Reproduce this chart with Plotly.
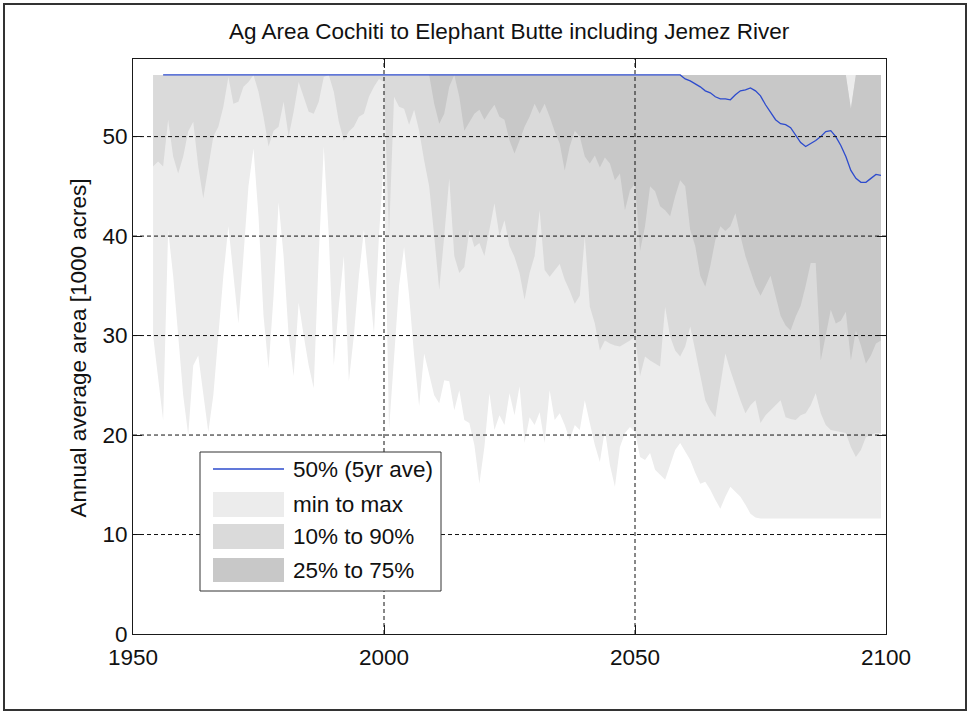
import plotly.graph_objects as go

# ---------------- data ----------------
years = list(range(1954, 2100))

max_vals = [
    56.2, 56.2, 56.2, 56.2, 56.2, 56.2,                                   # 1954-1959
    56.2, 56.2, 56.2, 56.2, 56.2, 56.2, 56.2, 56.2, 56.2, 56.2,           # 1960s
    56.2, 56.2, 56.2, 56.2, 56.2, 56.2, 56.2, 56.2, 56.2, 56.2,           # 1970s
    56.2, 56.2, 56.2, 56.2, 56.2, 56.2, 56.2, 56.2, 56.2, 56.2,           # 1980s
    56.2, 56.2, 56.2, 56.2, 56.2, 56.2, 56.2, 56.2, 56.2, 56.2,           # 1990s
    56.2, 56.2, 56.2, 56.2, 56.2, 56.2, 56.2, 56.2, 56.2, 56.2,           # 2000s
    56.2, 56.2, 56.2, 56.2, 56.2, 56.2, 56.2, 56.2, 56.2, 56.2,           # 2010s
    56.2, 56.2, 56.2, 56.2, 56.2, 56.2, 56.2, 56.2, 56.2, 56.2,           # 2020s
    56.2, 56.2, 56.2, 56.2, 56.2, 56.2, 56.2, 56.2, 56.2, 56.2,           # 2030s
    56.2, 56.2, 56.2, 56.2, 56.2, 56.2, 56.2, 56.2, 56.2, 56.2,           # 2040s
    56.2, 56.2, 56.2, 56.2, 56.2, 56.2, 56.2, 56.2, 56.2, 56.2,           # 2050s
    56.2, 56.2, 56.2, 56.2, 56.2, 56.2, 56.2, 56.2, 56.2, 56.2,           # 2060s
    56.2, 56.2, 56.2, 56.2, 56.2, 56.2, 56.2, 56.2, 56.2, 56.2,           # 2070s
    56.2, 56.2, 56.2, 56.2, 56.2, 56.2, 56.2, 56.2, 56.2, 56.2,           # 2080s
    56.2, 56.2, 56.2, 56.2, 56.2, 56.2, 56.2, 56.2, 56.2, 56.2,           # 2090s
]

p90 = [
    56.2, 56.2, 56.2, 56.2, 56.2, 56.2,
    56.2, 56.2, 56.2, 56.2, 56.2, 56.2, 56.2, 56.2, 56.2, 56.2,
    56.2, 56.2, 56.2, 56.2, 56.2, 56.2, 56.2, 56.2, 56.2, 56.2,
    56.2, 56.2, 56.2, 56.2, 56.2, 56.2, 56.2, 56.2, 56.2, 56.2,
    56.2, 56.2, 56.2, 56.2, 56.2, 56.2, 56.2, 56.2, 56.2, 56.2,
    56.2, 56.2, 56.2, 56.2, 56.2, 56.2, 56.2, 56.2, 56.2, 56.2,
    56.2, 56.2, 56.2, 56.2, 56.2, 56.2, 56.2, 56.2, 56.2, 56.2,
    56.2, 56.2, 56.2, 56.2, 56.2, 56.2, 56.2, 56.2, 56.2, 56.2,
    56.2, 56.2, 56.2, 56.2, 56.2, 56.2, 56.2, 56.2, 56.2, 56.2,
    56.2, 56.2, 56.2, 56.2, 56.2, 56.2, 56.2, 56.2, 56.2, 56.2,
    56.2, 56.2, 56.2, 56.2, 56.2, 56.2, 56.2, 56.2, 56.2, 56.2,
    56.2, 56.2, 56.2, 56.2, 56.2, 56.2, 56.2, 56.2, 56.2, 56.2,
    56.2, 56.2, 56.2, 56.2, 56.2, 56.2, 56.2, 56.2, 56.2, 56.2,
    56.2, 56.2, 56.2, 56.2, 56.2, 56.2, 56.2, 56.2, 56.2, 56.2,
    56.2, 56.2, 56.2, 52.8, 56.2, 56.2, 56.2, 56.2, 56.2, 56.2,
]

p75 = [
    56.2, 56.2, 56.2, 56.2, 56.2, 56.2,
    56.2, 56.2, 56.2, 56.2, 56.2, 56.2, 56.2, 56.2, 56.2, 56.2,
    56.2, 56.2, 56.2, 56.2, 56.2, 56.2, 56.2, 56.2, 56.2, 56.2,
    56.2, 56.2, 56.2, 56.2, 56.2, 56.2, 56.2, 56.2, 56.2, 56.2,
    56.2, 56.2, 56.2, 56.2, 56.2, 56.2, 56.2, 56.2, 56.2, 56.2,
    56.2, 56.2, 56.2, 56.2, 56.2, 56.2, 56.2, 56.2, 56.2, 56.2,
    56.2, 56.2, 56.2, 56.2, 56.2, 56.2, 56.2, 56.2, 56.2, 56.2,
    56.2, 56.2, 56.2, 56.2, 56.2, 56.2, 56.2, 56.2, 56.2, 56.2,
    56.2, 56.2, 56.2, 56.2, 56.2, 56.2, 56.2, 56.2, 56.2, 56.2,
    56.2, 56.2, 56.2, 56.2, 56.2, 56.2, 56.2, 56.2, 56.2, 56.2,
    56.2, 56.2, 56.2, 56.2, 56.2, 56.2, 56.2, 56.2, 56.2, 56.2,
    56.2, 56.2, 56.2, 56.2, 56.2, 56.2, 56.2, 56.2, 56.2, 56.2,
    56.2, 56.2, 56.2, 56.2, 56.2, 56.2, 56.2, 56.2, 56.2, 56.2,
    56.2, 56.2, 56.2, 56.2, 56.2, 56.2, 56.2, 56.2, 56.2, 56.2,
    56.2, 56.2, 56.2, 52.8, 56.2, 56.2, 56.2, 56.2, 56.2, 56.2,
]

p25 = [
    56.2, 56.2, 56.2, 56.2, 56.2, 56.2,                                   # 1954-1959
    56.2, 56.2, 56.2, 56.2, 56.2, 56.2, 56.2, 56.2, 56.2, 56.2,           # 1960s
    56.2, 56.2, 56.2, 56.2, 56.2, 56.2, 56.2, 56.2, 56.2, 56.2,           # 1970s
    56.2, 56.2, 56.2, 56.2, 56.2, 56.2, 56.2, 56.2, 56.2, 56.2,           # 1980s
    56.2, 56.2, 56.2, 56.2, 56.2, 56.2, 56.2, 56.2, 56.2, 56.2,           # 1990s
    56.2, 56.2, 56.2, 56.2, 56.2, 56.2, 56.2, 56.2, 56.2, 56.2,           # 2000s
    53.3, 51.3, 52.3, 55.0, 56.2, 54.0, 50.6, 51.5, 52.3, 52.7,           # 2010s
    51.7, 52.5, 53.2, 52.0, 51.7, 49.6, 48.3, 49.6, 51.0, 52.0,           # 2020s
    53.3, 52.3, 53.3, 52.0, 50.5, 49.3, 46.6, 49.0, 50.6, 50.0,           # 2030s
    48.0, 47.3, 48.1, 46.9, 47.9, 47.3, 45.6, 46.3, 42.6, 44.6,           # 2040s
    45.3, 38.5, 41.0, 45.0, 44.5, 43.0, 42.6, 42.0, 44.0, 45.6,           # 2050s
    45.0, 40.6, 39.0, 36.0, 34.9, 37.0, 39.6, 41.0, 40.5, 41.0,           # 2060s
    42.3, 40.0, 38.0, 36.5, 35.0, 34.0, 35.0, 36.0, 34.0, 32.0,           # 2070s
    31.0, 30.5, 31.9, 33.0, 35.0, 37.3, 37.3, 27.5, 30.0, 32.6,           # 2080s
    31.2, 31.5, 32.4, 27.5, 30.5, 29.0, 27.2, 28.0, 29.2, 29.5,           # 2090s
]

p10 = [
    47.0, 47.5, 47.0, 51.7, 48.0, 46.3,                                   # 1954-1959
    48.0, 50.5, 51.5, 47.0, 43.8, 47.0, 50.0, 51.0, 53.0, 56.0,           # 1960s
    53.3, 53.5, 55.0, 55.5, 56.2, 54.5, 52.0, 49.0, 50.6, 51.0,           # 1970s
    53.5, 50.0, 52.5, 55.5, 54.0, 52.5, 52.3, 53.5, 56.0, 56.2,           # 1980s
    54.5, 51.5, 49.6, 50.5, 51.0, 52.0, 52.3, 54.0, 55.0, 55.8,           # 1990s
    55.5, 40.0, 54.0, 53.0, 52.8, 51.2, 52.7, 50.6, 47.6, 45.0,           # 2000s
    40.0, 34.6, 40.0, 45.8, 38.0, 36.3, 36.9, 40.6, 38.9, 39.3,           # 2010s
    38.0, 40.5, 43.3, 40.0, 41.6, 39.0, 37.9, 36.3, 33.6, 36.3,           # 2020s
    38.0, 42.6, 36.6, 35.9, 36.5, 37.2, 35.6, 34.5, 33.2, 34.0,           # 2030s
    40.0, 32.9, 31.2, 28.5, 29.5, 29.2, 29.0, 28.9, 29.2, 29.5,           # 2040s
    29.9, 25.9, 27.9, 27.5, 27.2, 26.9, 32.9, 29.9, 28.5, 27.9,           # 2050s
    28.9, 30.9, 28.5, 26.0, 23.5, 22.5, 21.8, 25.0, 28.2, 26.5,           # 2060s
    24.9, 23.5, 22.2, 23.0, 23.5, 21.2, 22.0, 22.5, 23.0, 23.5,           # 2070s
    21.8, 21.6, 21.5, 22.0, 22.2, 23.0, 24.2, 22.2, 21.0, 20.5,           # 2080s
    20.4, 20.3, 20.2, 18.8, 17.8, 18.5, 19.8, 20.0, 20.2, 20.2,           # 2090s
]

min_vals = [
    30.0, 26.0, 21.5, 40.6, 36.0, 30.0,                                   # 1954-1959
    24.0, 20.0, 27.0, 28.0, 24.0, 20.3, 24.0, 30.0, 36.0, 41.0,           # 1960s
    36.0, 31.2, 38.0, 45.0, 48.8, 42.0, 32.0, 26.7, 34.0, 43.4,           # 1970s
    38.0, 30.0, 25.9, 33.3, 30.0, 27.0, 24.7, 38.0, 49.0, 40.0,           # 1980s
    27.0, 33.0, 38.0, 25.4, 30.0, 36.0, 40.6, 35.0, 30.2, 40.0,           # 1990s
    48.0, 20.5, 28.0, 35.0, 38.9, 34.0, 28.0, 22.9, 28.2, 26.2,           # 2000s
    24.0, 23.2, 25.5, 25.4, 22.5, 24.5, 21.5, 21.2, 19.0, 15.1,           # 2010s
    18.8, 24.2, 20.5, 22.0, 21.0, 24.2, 22.0, 24.9, 19.2, 21.8,           # 2020s
    21.0, 22.3, 19.2, 24.5, 21.5, 22.2, 21.0, 19.5, 21.0, 20.5,           # 2030s
    23.5, 21.2, 19.0, 17.3, 20.5, 17.0, 14.8, 18.8, 20.2, 20.8,           # 2040s
    20.3, 17.8, 17.5, 18.2, 16.5, 16.0, 15.5, 17.0, 18.5, 19.2,           # 2050s
    18.3, 17.5, 16.2, 15.1, 15.3, 14.5, 13.5, 12.6, 13.8, 14.8,           # 2060s
    14.3, 13.8, 13.0, 12.1, 11.7, 11.6, 11.6, 11.6, 11.6, 11.6,           # 2070s
    11.6, 11.6, 11.6, 11.6, 11.6, 11.6, 11.6, 11.6, 11.6, 11.6,           # 2080s
    11.6, 11.6, 11.6, 11.6, 11.6, 11.6, 11.6, 11.6, 11.6, 11.6,           # 2090s
]

median_years = list(range(1956, 2100))
median_5yr = [
    56.2, 56.2, 56.2, 56.2,                                               # 1956-1959
    56.2, 56.2, 56.2, 56.2, 56.2, 56.2, 56.2, 56.2, 56.2, 56.2,           # 1960s
    56.2, 56.2, 56.2, 56.2, 56.2, 56.2, 56.2, 56.2, 56.2, 56.2,           # 1970s
    56.2, 56.2, 56.2, 56.2, 56.2, 56.2, 56.2, 56.2, 56.2, 56.2,           # 1980s
    56.2, 56.2, 56.2, 56.2, 56.2, 56.2, 56.2, 56.2, 56.2, 56.2,           # 1990s
    56.2, 56.2, 56.2, 56.2, 56.2, 56.2, 56.2, 56.2, 56.2, 56.2,           # 2000s
    56.2, 56.2, 56.2, 56.2, 56.2, 56.2, 56.2, 56.2, 56.2, 56.2,           # 2010s
    56.2, 56.2, 56.2, 56.2, 56.2, 56.2, 56.2, 56.2, 56.2, 56.2,           # 2020s
    56.2, 56.2, 56.2, 56.2, 56.2, 56.2, 56.2, 56.2, 56.2, 56.2,           # 2030s
    56.2, 56.2, 56.2, 56.2, 56.2, 56.2, 56.2, 56.2, 56.2, 56.2,           # 2040s
    56.2, 56.2, 56.2, 56.2, 56.2, 56.2, 56.2, 56.2, 56.2, 56.2,           # 2050s
    55.8, 55.6, 55.3, 55.0, 54.6, 54.4, 54.0, 53.8, 53.8, 53.7,           # 2060s
    54.2, 54.6, 54.7, 54.9, 54.6, 54.1, 53.2, 52.4, 51.7, 51.3,           # 2070s
    51.2, 50.9, 50.2, 49.4, 49.0, 49.3, 49.6, 50.0, 50.5, 50.6,           # 2080s
    50.0, 49.1, 48.0, 46.6, 45.8, 45.4, 45.4, 45.8, 46.2, 46.1,           # 2090s
]

x_ticks = [1950, 2000, 2050, 2100]
y_ticks = [0, 10, 20, 30, 40, 50]
x_range = [1950, 2100]
y_range = [0, 57.8]

title_text = "Ag Area Cochiti to Elephant Butte including Jemez River"
y_label = "Annual average area [1000 acres]"
legend_labels = ["50% (5yr ave)", "min to max", "10% to 90%", "25% to 75%"]

# ---------------- styling ----------------
FONT = "Liberation Sans, Arial, Helvetica, sans-serif"
FS = 22.5
C_MINMAX = "#ececec"
C_1090 = "#dadada"
C_2575 = "#c8c8c8"
C_LINE = "rgb(45,75,205)"

fig = go.Figure()

def band(lower, upper, color, name):
    fig.add_trace(go.Scatter(x=years, y=lower, mode="lines", line=dict(width=0),
                             showlegend=False, hoverinfo="skip", name=name + " lower"))
    fig.add_trace(go.Scatter(x=years, y=upper, mode="lines", line=dict(width=0),
                             fill="tonexty", fillcolor=color, showlegend=False, name=name))

band(min_vals, max_vals, C_MINMAX, legend_labels[1])
band(p10, p90, C_1090, legend_labels[2])
band(p25, p75, C_2575, legend_labels[3])

fig.add_trace(go.Scatter(x=median_years, y=median_5yr, mode="lines",
                         line=dict(color=C_LINE, width=1.3), showlegend=False,
                         name=legend_labels[0]))

axis_common = dict(
    showgrid=False, zeroline=False, showline=True, linecolor="#1a1a1a", linewidth=1,
    mirror="allticks", ticks="inside", ticklen=9, tickcolor="#1a1a1a", tickwidth=1,
    layer="above traces", tickfont=dict(family=FONT, size=FS, color="#111"),
)

fig.update_xaxes(range=x_range, tickvals=x_ticks, ticktext=[str(v) for v in x_ticks],
                 ticklabelstandoff=3, **axis_common)
fig.update_yaxes(range=y_range, tickvals=y_ticks, ticktext=[str(v) for v in y_ticks],
                 **axis_common)

shapes = []
# dotted grid lines above the fills
for yv in y_ticks[1:]:
    shapes.append(dict(type="line", xref="paper", yref="y", x0=0, x1=1, y0=yv, y1=yv,
                       line=dict(color="#111", width=1, dash="4px,3px"), layer="above"))
for xv in x_ticks[1:-1]:
    shapes.append(dict(type="line", xref="x", yref="paper", x0=xv, x1=xv, y0=0, y1=1,
                       line=dict(color="#111", width=1, dash="4px,3px"), layer="above"))

# manual legend (pixel positions converted to paper coordinates)
L, T, PW, PH = 133.0, 59.0, 753.0, 575.0
def px(x):
    return (x - L) / PW
def py(y):
    return (T + PH - y) / PH

shapes.append(dict(type="rect", xref="paper", yref="paper",
                   x0=px(200), x1=px(441), y0=py(591), y1=py(452),
                   line=dict(color="#333", width=1), fillcolor="white", layer="above"))
shapes.append(dict(type="line", xref="paper", yref="paper",
                   x0=px(213), x1=px(284), y0=py(469), y1=py(469),
                   line=dict(color=C_LINE, width=1.3), layer="above"))
for (ytop, ybot, col) in [(492, 517, C_MINMAX), (524, 549, C_1090), (558, 582, C_2575)]:
    shapes.append(dict(type="rect", xref="paper", yref="paper",
                       x0=px(213), x1=px(284), y0=py(ybot), y1=py(ytop),
                       line=dict(width=0), fillcolor=col, layer="above"))

# outer figure frame
shapes.append(dict(type="rect", xref="paper", yref="paper",
                   x0=px(4), x1=px(966), y0=py(710), y1=py(4),
                   line=dict(color="#333", width=2), fillcolor="rgba(0,0,0,0)", layer="above"))

annotations = []
for lbl, yc in zip(legend_labels, [469, 504, 536, 570]):
    annotations.append(dict(text=lbl, xref="paper", yref="paper", x=px(291), y=py(yc),
                            xanchor="left", yanchor="middle", showarrow=False,
                            font=dict(family=FONT, size=FS, color="#111")))
annotations.append(dict(text=title_text, xref="paper", yref="paper", x=0.5, y=py(31),
                        xanchor="center", yanchor="middle", showarrow=False,
                        font=dict(family=FONT, size=FS, color="#111")))
annotations.append(dict(text=y_label, xref="paper", yref="paper", x=px(78), y=py(348.5),
                        xanchor="center", yanchor="middle", textangle=-90, showarrow=False,
                        font=dict(family=FONT, size=FS, color="#111")))

fig.update_layout(
    width=970, height=714,
    margin=dict(l=133, r=84, t=59, b=80),
    paper_bgcolor="white", plot_bgcolor="white",
    shapes=shapes, annotations=annotations, showlegend=False,
)

fig.write_html("out.html",
               config={"displayModeBar": False, "staticPlot": True},
               post_script="document.body.style.margin='0';document.body.style.overflow='hidden';")
